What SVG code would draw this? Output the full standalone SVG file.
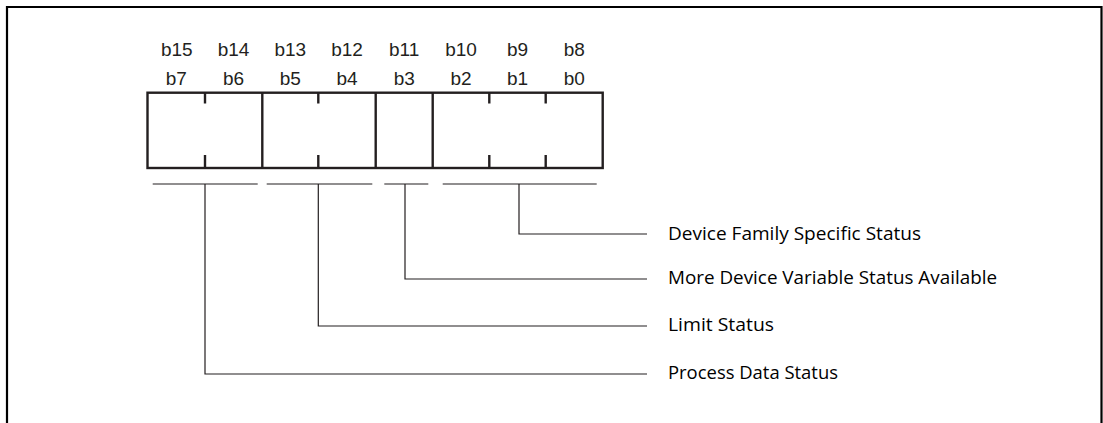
<svg xmlns="http://www.w3.org/2000/svg" width="1103" height="423" viewBox="0 0 1103 423">
<style>
.bit{font-family:"Liberation Sans",Arial,sans-serif;font-size:19px;fill:#231f20;text-anchor:middle}
.lbl{font-family:"Open Sans","Noto Sans",sans-serif;font-size:18.5px;fill:#000}
.box{fill:#fff;stroke:#231f20;stroke-width:2.4}
.tick{stroke:#231f20;stroke-width:2.4}
.thin{fill:none;stroke:#231f20;stroke-width:1.2}
</style>
<rect width="1103" height="423" fill="#fff"/>
<path d="M7,423 V7 H1101.5 V423" fill="none" stroke="#000" stroke-width="2.2"/>
<g id="bits">
<text class="bit" x="176.8" y="56">b15</text>
<text class="bit" x="233.6" y="56">b14</text>
<text class="bit" x="290.3" y="56">b13</text>
<text class="bit" x="347" y="56">b12</text>
<text class="bit" x="404.2" y="56">b11</text>
<text class="bit" x="461" y="56">b10</text>
<text class="bit" x="517.5" y="56">b9</text>
<text class="bit" x="574.2" y="56">b8</text>
<text class="bit" x="176.3" y="85">b7</text>
<text class="bit" x="233.6" y="85">b6</text>
<text class="bit" x="290.3" y="85">b5</text>
<text class="bit" x="347" y="85">b4</text>
<text class="bit" x="404.2" y="85">b3</text>
<text class="bit" x="461" y="85">b2</text>
<text class="bit" x="517.5" y="85">b1</text>
<text class="bit" x="574.2" y="85">b0</text>
</g>
<g id="register">
<rect class="box" x="147.5" y="92.7" width="455.2" height="75.3"/>
<line class="tick" x1="262.3" y1="92.7" x2="262.3" y2="168"/>
<line class="tick" x1="375.7" y1="92.7" x2="375.7" y2="168"/>
<line class="tick" x1="432.7" y1="92.7" x2="432.7" y2="168"/>
<line class="tick" x1="205" y1="92.7" x2="205" y2="103.5"/>
<line class="tick" x1="205" y1="155" x2="205" y2="168"/>
<line class="tick" x1="318.3" y1="92.7" x2="318.3" y2="103.5"/>
<line class="tick" x1="318.3" y1="155" x2="318.3" y2="168"/>
<line class="tick" x1="489.3" y1="92.7" x2="489.3" y2="103.5"/>
<line class="tick" x1="489.3" y1="155" x2="489.3" y2="168"/>
<line class="tick" x1="545.7" y1="92.7" x2="545.7" y2="103.5"/>
<line class="tick" x1="545.7" y1="155" x2="545.7" y2="168"/>
</g>
<g id="connectors">
<line class="thin" x1="152.7" y1="184" x2="257.7" y2="184"/>
<line class="thin" x1="266.7" y1="184" x2="372.3" y2="184"/>
<line class="thin" x1="384.3" y1="184" x2="428.3" y2="184"/>
<line class="thin" x1="442.7" y1="184" x2="596.7" y2="184"/>
<path class="thin" d="M519,184 V234 H647"/>
<path class="thin" d="M405,184 V279 H647"/>
<path class="thin" d="M318.3,184 V326 H647"/>
<path class="thin" d="M205,184 V374 H647"/>
</g>
<g id="label-device-family">
<text class="lbl" x="668" y="239.5" textLength="253" lengthAdjust="spacingAndGlyphs">Device Family Specific Status</text>
</g>
<g id="label-more-device">
<text class="lbl" x="668" y="283.5" textLength="329" lengthAdjust="spacingAndGlyphs">More Device Variable Status Available</text>
</g>
<g id="label-limit">
<text class="lbl" x="668" y="330.5" textLength="106" lengthAdjust="spacingAndGlyphs">Limit Status</text>
</g>
<g id="label-process">
<text class="lbl" x="668" y="378.5" textLength="170" lengthAdjust="spacingAndGlyphs">Process Data Status</text>
</g>
</svg>
